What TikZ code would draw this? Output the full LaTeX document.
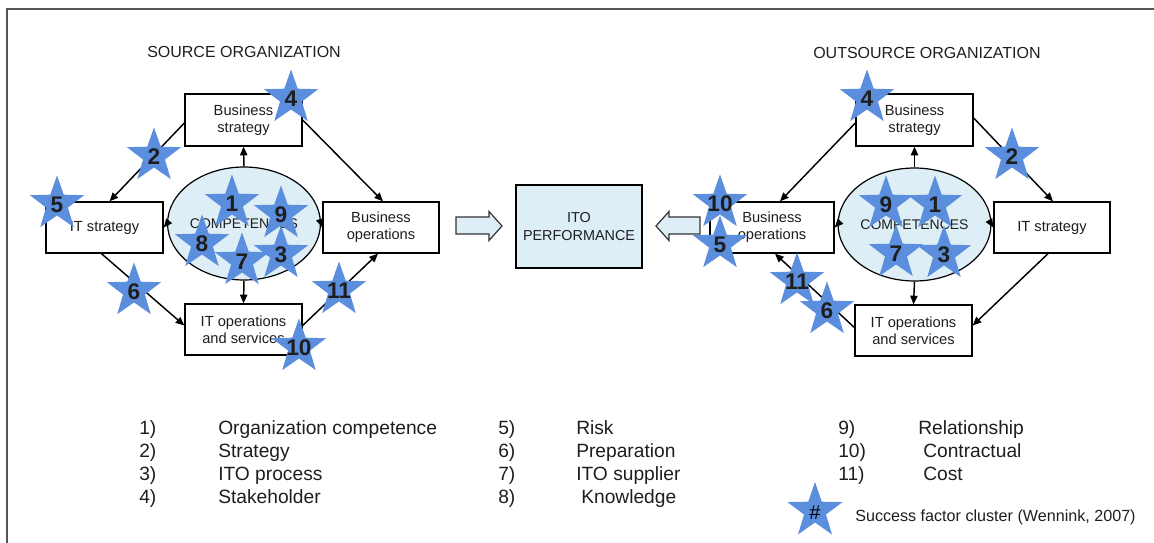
\documentclass[tikz,border=0pt]{standalone}
\usepackage{fontspec}
\setmainfont{Liberation Sans}
\usetikzlibrary{arrows.meta,calc,shapes.geometric}
\definecolor{starblue}{RGB}{92,142,222}
\definecolor{paleblue}{RGB}{222,238,246}
\definecolor{framegray}{RGB}{85,85,85}
\definecolor{ink}{RGB}{30,30,30}

\tikzset{
  box/.style={draw=black, line width=1pt, fill=white, inner sep=0pt, align=center,
              font=\fontsize{11}{12.6}\selectfont, text=ink},
  comp/.style={ellipse, draw=black, line width=0.9pt, fill=paleblue, inner sep=0pt,
               font=\fontsize{10.5}{12}\selectfont, text=ink},
  link/.style={-{Triangle[length=6.5pt,width=5.5pt]}, line width=1.1pt},
  hollow/.style={draw=black!80, line width=0.9pt, fill=paleblue},
  starnum/.style={font=\fontsize{17}{18}\selectfont\bfseries, inner sep=0pt, text=ink},
  legend/.style={anchor=base west, inner sep=0pt, font=\fontsize{14.4}{16}\selectfont, text=ink},
  title/.style={anchor=base west, inner sep=0pt, font=\fontsize{12}{14}\selectfont, text=ink},
}

\begin{document}
\begin{tikzpicture}[x=0.75pt, y=-0.75pt]
  \useasboundingbox (0,0) rectangle (1154,543);

  % frame
  \draw[framegray, line width=1.5pt] (7,543) -- (7,9) -- (1154,9);

  % titles
  \node[title] (tsrc) at (147,57.5) {SOURCE ORGANIZATION};
  \node[title] (tout) at (813,58.5) {OUTSOURCE ORGANIZATION};

  % ---- source organization ----
  \node[box, minimum width=87.75pt, minimum height=39pt] (lbs) at (243.5,120) {Business\\strategy};
  \node[box, minimum width=87.75pt, minimum height=38.25pt] (lits) at (104.5,227.5) {IT strategy};
  \node[box, minimum width=87pt, minimum height=38.25pt] (lbo) at (381,227.5) {Business\\operations};
  \node[box, minimum width=87.75pt, minimum height=38.25pt] (lito) at (243.5,329.5) {IT operations\\and services};
  \node[comp, minimum width=91.5pt, minimum height=84.75pt] (lcomp) at (244,223.5) {COMPETENCES};

  \draw[link] (lcomp.north) -- (lbs.south);
  \draw[link] (lcomp.west) -- (lits.east);
  \draw[link] (lcomp.east) -- (lbo.west);
  \draw[link] (lcomp.south) -- (lito.north);
  \draw[link] ($(lbs.west)+(0,3)$) -- ($(lits.north)+(5,0)$);
  \draw[link] (lbs.east) -- ($(lbo.north)+(2,0)$);
  \draw[link] ($(lits.south)+(-3,0)$) -- ($(lito.west)+(0,-4)$);
  \draw[link] ($(lito.east)+(0,-4)$) -- ($(lbo.south)+(-3,0)$);

  % ---- outsource organization ----
  \node[box, minimum width=87.75pt, minimum height=39pt] (rbs) at (914.5,120) {Business\\strategy};
  \node[box, minimum width=93pt, minimum height=38.25pt] (rbo) at (772,227.5) {Business\\operations};
  \node[box, minimum width=87pt, minimum height=38.25pt] (rits) at (1052,227.5) {IT strategy};
  \node[box, minimum width=87.75pt, minimum height=38.25pt] (rito) at (913.5,330.5) {IT operations\\and services};
  \node[comp, minimum width=90.75pt, minimum height=84.75pt] (rcomp) at (914.5,224.5) {COMPETENCES};

  \draw[link] (rcomp.north) -- (rbs.south);
  \draw[link] (rcomp.west) -- (rbo.east);
  \draw[link] (rcomp.east) -- (rits.west);
  \draw[link] (rcomp.south) -- (rito.north);
  \draw[link] ($(rbs.west)+(0,3)$) -- ($(rbo.north)+(8,0)$);
  \draw[link] ($(rbs.east)+(0,-2)$) -- ($(rits.north)+(1,0)$);
  \draw[link] ($(rits.south)+(-4,0)$) -- ($(rito.east)+(0,-5)$);
  \draw[link] ($(rito.west)+(0,-3)$) -- ($(rbo.south)+(3,0)$);

  % ---- ITO performance ----
  \node[box, fill=paleblue, minimum width=94.5pt, minimum height=62.25pt,
        font=\fontsize{10.8}{13.5}\selectfont] (ito) at (579,226.5) {ITO\\PERFORMANCE};
  \draw[hollow] (456,217) -- (489,217) -- (489,211.5) -- (502,226) -- (489,240.5) -- (489,234) -- (456,234) -- cycle;
  \draw[hollow] (700,217) -- (669,217) -- (669,211.5) -- (656,226) -- (669,240.5) -- (669,234) -- (700,234) -- cycle;

  % ---- success factor stars ----
  \def\starlist{291/98/4, 154/156/2, 57/204/5, 232/203/1, 281/214/9, 202/243/8,
                242/261/7, 281/254/3, 134/291/6, 339/290/11, 299/347/10,
                867/98/4, 1012/156/2, 720/203/10, 720/244/5, 886/204/9, 935/204/1,
                896/253/7, 944/254/3, 797/281/11, 827/310/6}
  \foreach \x/\y/\t in \starlist {
    \fill[starblue, shift={(\x,\y)}] (-90:28.5) -- (-54:11.5) -- (-18:28.5) -- (18:11.5) -- (54:28.5)
      -- (90:11.5) -- (126:28.5) -- (162:11.5) -- (198:28.5) -- (234:11.5) -- cycle;
  }
  \foreach \x/\y/\t in \starlist {
    \node[starnum] (sf-\x-\t) at (\x,\y+1) {\t};
  }

  % ---- legend ----
  \node[legend] (n1) at (139,434.5) {1)};
  \node[legend] (n2) at (139,457.5) {2)};
  \node[legend] (n3) at (139,480.5) {3)};
  \node[legend] (n4) at (139,503.5) {4)};
  \node[legend] (d1) at (218,434.5) {Organization competence};
  \node[legend] (d2) at (218,457.5) {Strategy};
  \node[legend] (d3) at (218,480.5) {ITO process};
  \node[legend] (d4) at (218,503.5) {Stakeholder};

  \node[legend] (n5) at (498,434.5) {5)};
  \node[legend] (n6) at (498,457.5) {6)};
  \node[legend] (n7) at (498,480.5) {7)};
  \node[legend] (n8) at (498,503.5) {8)};
  \node[legend] (d5) at (576,434.5) {Risk};
  \node[legend] (d6) at (576,457.5) {Preparation};
  \node[legend] (d7) at (576,480.5) {ITO supplier};
  \node[legend] (d8) at (581,503.5) {Knowledge};

  \node[legend] (n9) at (838,434.5) {9)};
  \node[legend] (n10) at (838,457.5) {10)};
  \node[legend] (n11) at (838,480.5) {11)};
  \node[legend] (d9) at (918,434.5) {Relationship};
  \node[legend] (d10) at (923,457.5) {Contractual};
  \node[legend] (d11) at (923,480.5) {Cost};

  \fill[starblue, shift={(815,511)}] (-90:29) -- (-54:11.5) -- (-18:29) -- (18:11.5) -- (54:29)
      -- (90:11.5) -- (126:29) -- (162:11.5) -- (198:29) -- (234:11.5) -- cycle;
  \node[inner sep=0pt, font=\fontsize{15}{16}\selectfont, text=black] (hash) at (815,513) {\#};
  \node[title, font=\fontsize{12.1}{14}\selectfont] (key) at (855,521.5) {Success factor cluster (Wennink, 2007)};
\end{tikzpicture}
\end{document}
